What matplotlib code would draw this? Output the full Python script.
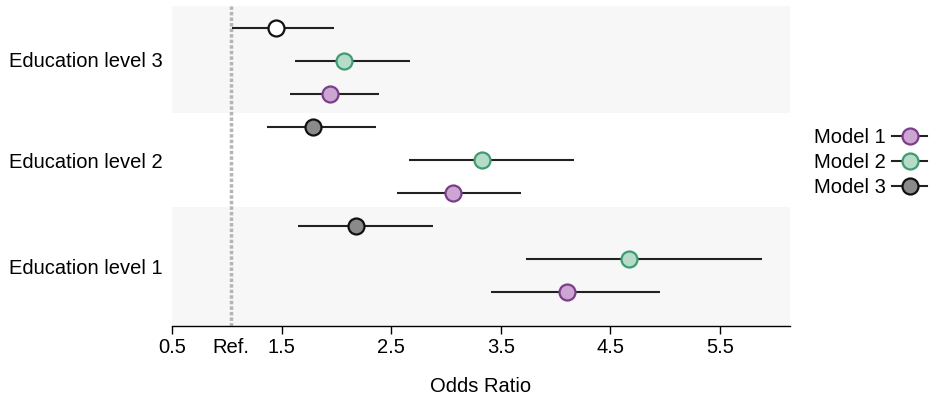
import numpy as np
import matplotlib.pyplot as plt
from matplotlib.lines import Line2D

plt.rcParams['font.family'] = ['Liberation Sans', 'DejaVu Sans']

groups = ['Education level 1', 'Education level 2', 'Education level 3']
models = ['Model 1', 'Model 2', 'Model 3']

# odds ratios and CIs, rows = education level 1..3, cols = model 1..3
or_est = np.array([[4.10, 4.67, 2.18],
                   [3.06, 3.33, 1.79],
                   [1.94, 2.07, 1.45]])
ci_low = np.array([[3.41, 3.73, 1.65],
                   [2.55, 2.66, 1.37],
                   [1.58, 1.62, 1.05]])
ci_high = np.array([[4.95, 5.88, 2.88],
                    [3.68, 4.17, 2.36],
                    [2.39, 2.67, 1.98]])

ref_value = 1.04
xticks = [0.5, ref_value, 1.5, 2.5, 3.5, 4.5, 5.5]
xticklabels = ['0.5', 'Ref.', '1.5', '2.5', '3.5', '4.5', '5.5']

fills = ['#cda5d3', '#b6dcc9', '#8a8a8a']
edges = ['#7a3d8a', '#3c9c72', '#111111']

fig = plt.figure(figsize=(9.35, 3.97), dpi=100)
ax = fig.add_axes([0.184, 0.179, 0.661, 0.806])

# background bands for level 1 and 3
ax.axhspan(-1.03, 2.58, color='#f7f7f7', zorder=0, lw=0)
ax.axhspan(5.42, 8.67, color='#f7f7f7', zorder=0, lw=0)
band_mid = [(-1.03 + 2.58) / 2, (2.58 + 5.42) / 2, (5.42 + 8.67) / 2]

ax.axvline(ref_value, color='#b5b5b5', lw=2.5, ls=(0, (1, 0.6)), zorder=1)

for g in range(3):
    for m in range(3):
        y = g * 3 + m
        ax.hlines(y, ci_low[g, m], ci_high[g, m], color='#222222', lw=1.5, zorder=2)
        fc = fills[m]
        if g == 2 and m == 2:
            fc = 'white'
        ax.plot(or_est[g, m], y, 'o', ms=11.5, mfc=fc, mec=edges[m], mew=1.6, zorder=3)

ax.set_xlim(0.5, 6.14)
ax.set_ylim(-1.03, 8.67)
ax.set_yticks(band_mid)
ax.set_yticklabels(groups, fontsize=14.5)
ax.tick_params(axis='y', length=0, pad=7)
ax.set_xticks(xticks)
ax.set_xticklabels(xticklabels, fontsize=14.5)
ax.tick_params(axis='x', length=6, width=1, pad=3)
ax.xaxis.get_major_ticks()[1].tick1line.set_visible(False)
ax.set_xlabel('Odds Ratio', fontsize=14.5, labelpad=14)
for s in ['top', 'right', 'left']:
    ax.spines[s].set_visible(False)
ax.spines['bottom'].set_linewidth(1)

handles = [Line2D([0], [0], color='#222222', lw=1.5, marker='o', ms=11.5,
                  mfc=fills[i], mec=edges[i], mew=1.6) for i in range(3)]
fig.legend(handles, models, loc='center left', bbox_to_anchor=(0.862, 0.59),
           frameon=False, markerfirst=False, fontsize=14.5, handlelength=1.75,
           handletextpad=0.3, labelspacing=0.3, borderaxespad=0)

fig.savefig('out.png', dpi=100)
